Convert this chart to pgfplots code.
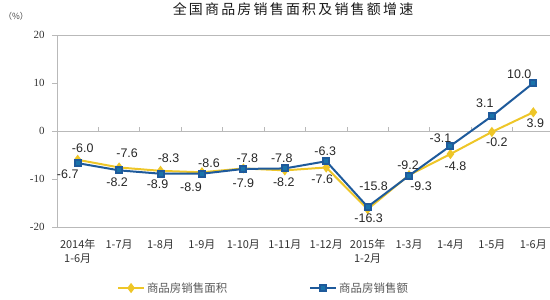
\documentclass[border=0pt]{standalone}
\usepackage{pgfplots}
\pgfplotsset{compat=1.18}
\usepackage{pgfplotstable}
\usepackage{fontspec}
\setmainfont{Liberation Sans}
\newfontfamily\cjk{Noto Sans CJK SC}
\newfontfamily\tickfont{Liberation Serif}
\definecolor{areaY}{RGB}{238,198,40}
\definecolor{amtB}{RGB}{30,90,155}
\definecolor{axgray}{RGB}{185,185,185}

\pgfplotstableread{
x y lab dx dy
0 -6.0 -6.0 5 12
1 -7.6 -7.6 8 14
2 -8.3 -8.3 8 13
3 -8.6 -8.6 7 9
4 -7.8 -7.8 4 10
5 -8.2 -8.2 -1 -12
6 -7.6 -7.6 -4 -12
7 -16.3 -16.3 1 -9
8 -9.2 -9.2 -1 10
9 -4.8 -4.8 5 -12
10 -0.2 -0.2 5 -10
11 3.9 3.9 2 -11
}\areadata

\pgfplotstableread{
x y lab dx dy
0 -6.7 -6.7 -10 -11
1 -8.2 -8.2 -2 -12
2 -8.9 -8.9 -3 -10
3 -8.9 -8.9 -11 -13
4 -7.9 -7.9 0 -14
5 -7.8 -7.8 -3 10
6 -6.3 -6.3 -1 10
7 -15.8 -15.8 6 21
8 -9.3 -9.3 12 -11
9 -3.1 -3.1 -10 8
10 3.1 3.1 -7 13
11 10.0 10.0 -14 9
}\amtdata

\begin{document}
\begin{tikzpicture}
\useasboundingbox (0bp,0bp) rectangle (550bp,300bp);
\begin{axis}[
  at={(57bp,73bp)}, anchor=south west,
  scale only axis, width=497bp, height=192bp,
  xmin=-0.5, xmax=11.5, ymin=-20, ymax=20,
  clip=false,
  separate axis lines,
  axis x line*=bottom, axis y line*=left,
  axis line style={draw=axgray, -, line width=0.8bp},
  xtick={0,...,11},
  xticklabels={{2014年\\1-6月},1-7月,1-8月,1-9月,1-10月,1-11月,1-12月,{2015年\\1-2月},1-3月,1-4月,1-5月,1-6月},
  x tick style={draw=none},
  xticklabel style={align=center, anchor=north, font=\cjk\fontsize{11}{14}\selectfont, text=black!80, yshift=-4bp},
  ytick={-20,-10,0,10,20},
  yticklabels={-20,-10,0,10,20},
  y tick style={draw=axgray, line width=0.8bp},
  tick align=outside, major tick length=5bp,
  yticklabel style={font=\tickfont\fontsize{11}{11}\selectfont, text=black!80, xshift=-4bp},
  legend columns=2,
  legend style={at={(0.4155,-0.318)}, anchor=center, draw=none, fill=none,
    font=\cjk\fontsize{11.5}{12}\selectfont, text=black!65,
    /tikz/every even column/.append style={column sep=80bp}},
  legend image code/.code={\draw[mark repeat=2,mark phase=2,#1] plot coordinates {(0bp,0bp) (13bp,0bp) (26bp,0bp)};},
  every node near coord/.append style={font=\fontsize{12.5}{12.5}\selectfont, text=black!85, anchor=center, inner sep=0pt},
]
\draw[axgray, line width=0.8bp] (axis cs:-0.5,20) -- (axis cs:11.5,20);
\draw[axgray, line width=0.8bp] (axis cs:-0.5,0) -- (axis cs:11.5,0);
\pgfplotsinvokeforeach{0.5,1.5,2.5,3.5,4.5,5.5,6.5,7.5,8.5,9.5,10.5}{
  \draw[axgray, line width=0.8bp] (axis cs:#1,0) -- ++(0bp,4bp);
}
\addplot[color=areaY, line width=2bp, mark=diamond*, mark size=3.5bp,
  mark options={fill=areaY, draw=areaY},
  nodes near coords, point meta=explicit symbolic,
  visualization depends on={\thisrow{dx} \as \dx},
  visualization depends on={\thisrow{dy} \as \dy},
  every node near coord/.append style={xshift={\dx*1bp}, yshift={\dy*1bp}}]
  table[x=x, y=y, meta=lab]{\areadata};
\addlegendentry{商品房销售面积}
\addplot[color=amtB, line width=2bp, mark=square*, mark size=3bp,
  mark options={fill=amtB!85!cyan, draw=amtB},
  nodes near coords, point meta=explicit symbolic,
  visualization depends on={\thisrow{dx} \as \dx},
  visualization depends on={\thisrow{dy} \as \dy},
  every node near coord/.append style={xshift={\dx*1bp}, yshift={\dy*1bp}}]
  table[x=x, y=y, meta=lab]{\amtdata};
\addlegendentry{商品房销售额}
\end{axis}
\node[font=\cjk\fontsize{14}{14}\selectfont\addfontfeatures{LetterSpace=16}, text=black!90] at (293bp,291bp) {全国商品房销售面积及销售额增速};
\node[font=\cjk\fontsize{8.5}{9}\selectfont, text=black!75] at (16bp,284bp) {（\%）};
\end{tikzpicture}
\end{document}
